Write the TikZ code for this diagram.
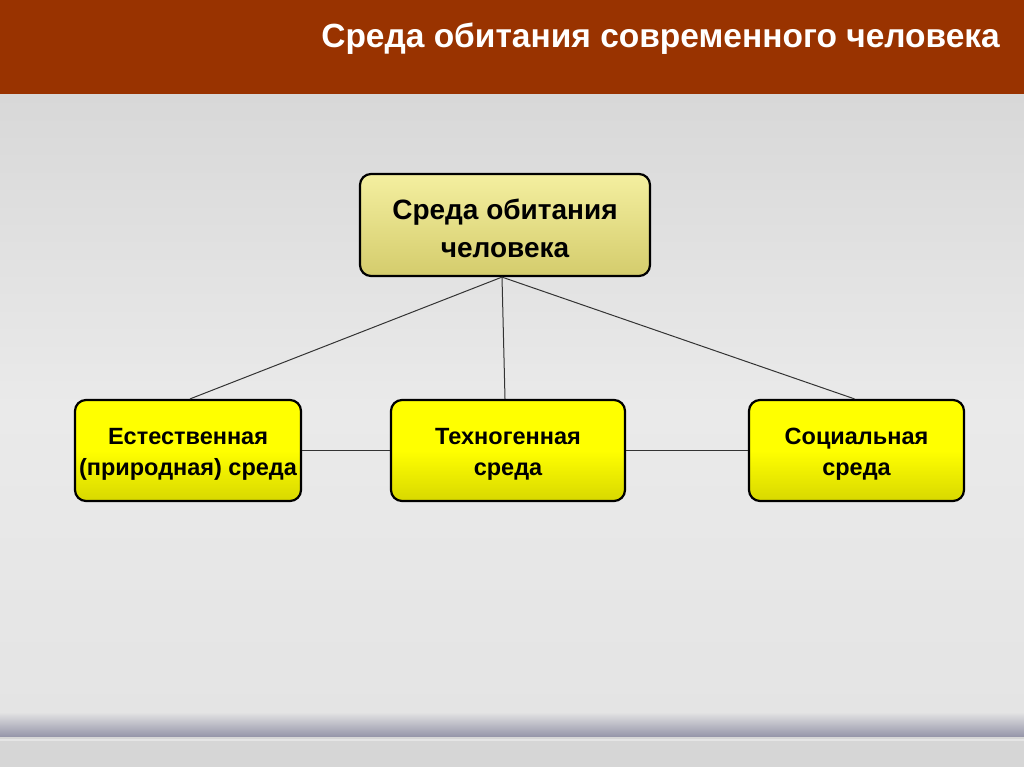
\documentclass[tikz,border=0pt]{standalone}
\usepackage{fontspec}
\setmainfont{Liberation Sans}
\usetikzlibrary{positioning}
\definecolor{hdr}{HTML}{993300}
\definecolor{bgA}{HTML}{E4E4E4}
\definecolor{bgB}{HTML}{D8D8D8}
\definecolor{bgC}{HTML}{EAEAEA}
\definecolor{ylw}{HTML}{FFFF00}
\definecolor{ylwD}{HTML}{D8D800}
\definecolor{khA}{HTML}{F4EFA0}
\definecolor{khB}{HTML}{D4CC6C}
\definecolor{band}{HTML}{9494A8}
\tikzset{
  box/.style={draw=black, line width=2.2pt, rounded corners=11pt, inner sep=0pt},
  ybox/.style={box, top color=ylw, bottom color=ylwD, middle color=ylw},
  kbox/.style={box, top color=khA, bottom color=khB},
  ytxt/.style={align=center, inner sep=0pt, font=\bfseries\fontsize{23.5}{31}\selectfont},
  ktxt/.style={align=center, inner sep=0pt, font=\bfseries\fontsize{28}{38}\selectfont},
  link/.style={draw=black!80, line width=1pt}
}
\begin{document}
\begin{tikzpicture}[x=1pt,y=-1pt]
\useasboundingbox (0,0) rectangle (1024,767);
% background
\shade[top color=bgB, bottom color=bgA, middle color=bgC] (0,94) rectangle (1024,720);
\shade[top color=bgA, bottom color=band] (0,712) rectangle (1024,737);
\fill[white!84!black] (0,737) rectangle (1024,767);
\fill[white!90!black] (0,739) rectangle (1024,741);
% header
\fill[hdr] (0,0) rectangle (1024,94);
\node[anchor=east, text=white, font=\bfseries\fontsize{33.5}{36}\selectfont, inner sep=0pt] (title) at (1000,39) {Среда обитания современного человека};
% boxes
\node[kbox, minimum width=290pt, minimum height=102pt] (top) at (505,225) {};
\node[ktxt] (toptxt) at ([yshift=-3pt]top.center) {Среда обитания\\человека};
\node[ybox, minimum width=226pt, minimum height=101pt] (nat) at (188,450.5) {};
\node[ytxt] (nattxt) at ([yshift=-4pt]nat.center) {Естественная\\(природная) среда};
\node[ybox, minimum width=234pt, minimum height=101pt] (tech) at (508,450.5) {};
\node[ytxt] (techtxt) at ([yshift=-4pt]tech.center) {Техногенная\\среда};
\node[ybox, minimum width=215pt, minimum height=101pt] (soc) at (856.5,450.5) {};
\node[ytxt] (soctxt) at ([yshift=-4pt]soc.center) {Социальная\\среда};
% connectors
\draw[link] ([xshift=-3pt]top.south) -- ([xshift=2pt]nat.north);
\draw[link] ([xshift=-3pt]top.south) -- ([xshift=-3pt]tech.north);
\draw[link] ([xshift=-3pt]top.south) -- ([xshift=-2pt]soc.north);
\draw[link] (nat.east) -- (tech.west);
\draw[link] (tech.east) -- (soc.west);
\end{tikzpicture}
\end{document}
